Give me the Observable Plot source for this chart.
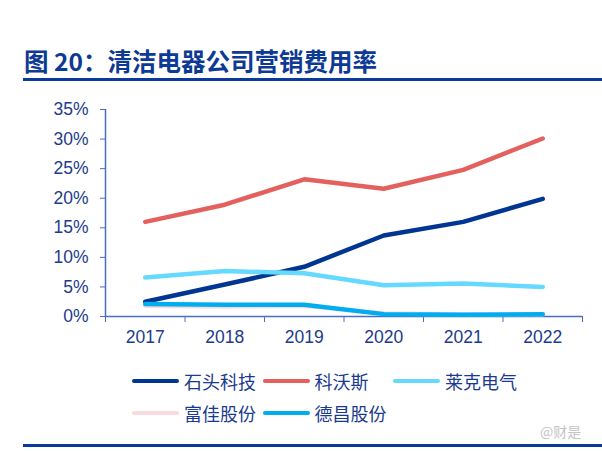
<!DOCTYPE html>
<html><head><meta charset="utf-8">
<script src="https://cdn.jsdelivr.net/npm/d3@7"></script>
<script src="https://cdn.jsdelivr.net/npm/@observablehq/plot@0.6"></script>
<style>
body{margin:0;background:#fff;width:602px;height:451px;position:relative;overflow:hidden;font-family:"Liberation Sans",Arial,sans-serif}
#title{position:absolute;left:24px;top:46px;font:bold 24.5px "Noto Sans CJK SC";color:#0d3a94;white-space:nowrap;line-height:30px}
.rule{position:absolute;left:23px;right:0;height:3px;background:#0a3a9a}
#chart{position:absolute;left:0;top:95px}
.leg{position:absolute;display:flex;align-items:center;font:18px "Noto Sans CJK SC";color:#1a3a8f;line-height:24px;white-space:nowrap}
.sw{width:47px;height:4px;border-radius:2px;margin-right:5px}
#wm{position:absolute;left:540px;top:421px;font:14px "Noto Sans CJK SC";color:#c4c4c4}
</style></head>
<body>
<div id="title">图 20：清洁电器公司营销费用率</div>
<div class="rule" style="top:78px"></div>
<div id="chart"></div>
<div id="legend"></div>
<div id="wm">@财是</div>
<div class="rule" style="top:444px"></div>
<script>
const years = [2017, 2018, 2019, 2020, 2021, 2022];
const seriesNames = ["石头科技", "科沃斯", "莱克电气", "富佳股份", "德昌股份"];
const seriesColors = ["#003591", "#e4605e", "#66d9ff", "#fadadd", "#00aeef"];
const shitou  = [2.5, 5.4, 8.4, 13.7, 16.0, 19.9];
const kewosi  = [16.0, 18.9, 23.2, 21.6, 24.8, 30.1];
const laike   = [6.6, 7.7, 7.3, 5.3, 5.6, 5.0];
const fujia   = [1.8, 1.7, 1.8, 0.5, 0.4, 0.4];
const dechang = [2.1, 2.0, 2.0, 0.4, 0.3, 0.4];
const yTicks = [0, 5, 10, 15, 20, 25, 30, 35];

const values = [shitou, kewosi, laike, fujia, dechang];
const rows = [];
seriesNames.forEach((s, i) => years.forEach((y, j) => rows.push({series: s, year: y, value: values[i][j]})));
const bounds = [years[0] - 0.5, ...years.map(y => y + 0.5)];

const axisColor = "#4a6ec4";
const textColor = "#1d3b8c";

const chart = Plot.plot({
  width: 602,
  height: 255,
  marginLeft: 105,
  marginRight: 20,
  marginTop: 14,
  marginBottom: 34,
  style: {fontFamily: "'Liberation Sans', Arial, sans-serif", background: "transparent"},
  x: {type: "linear", domain: [bounds[0], bounds[bounds.length - 1]]},
  y: {domain: [0, 35]},
  color: {domain: seriesNames, range: seriesColors},
  marks: [
    Plot.ruleX([bounds[0]], {stroke: axisColor, strokeWidth: 1.5}),
    Plot.ruleY([0], {stroke: axisColor, strokeWidth: 1.5}),
    Plot.axisY({ticks: yTicks, tickSize: 5, tickPadding: 12, tickFormat: d => d + "%", stroke: axisColor, fill: textColor, fontSize: 17.5, label: null}),
    Plot.axisX({ticks: bounds, tickSize: 6, tickFormat: () => "", stroke: axisColor, label: null}),
    Plot.axisX({ticks: years, tickSize: 0, tickPadding: 14, tickFormat: d => String(d), fill: textColor, fontSize: 17.5, label: null}),
    Plot.line(rows, {x: "year", y: "value", z: "series", stroke: "series", strokeWidth: 4.5, strokeLinecap: "round", strokeLinejoin: "round"})
  ]
});
document.getElementById("chart").append(chart);

const legend = document.getElementById("legend");
seriesNames.forEach((s, i) => {
  const col = i % 3, row = Math.floor(i / 3);
  const d = document.createElement("div");
  d.className = "leg";
  d.style.left = (132 + col * 130.5) + "px";
  d.style.top = (369 + row * 32) + "px";
  d.innerHTML = `<span class="sw" style="background:${seriesColors[i]}"></span><span>${s}</span>`;
  legend.append(d);
});
</script>
</body></html>
